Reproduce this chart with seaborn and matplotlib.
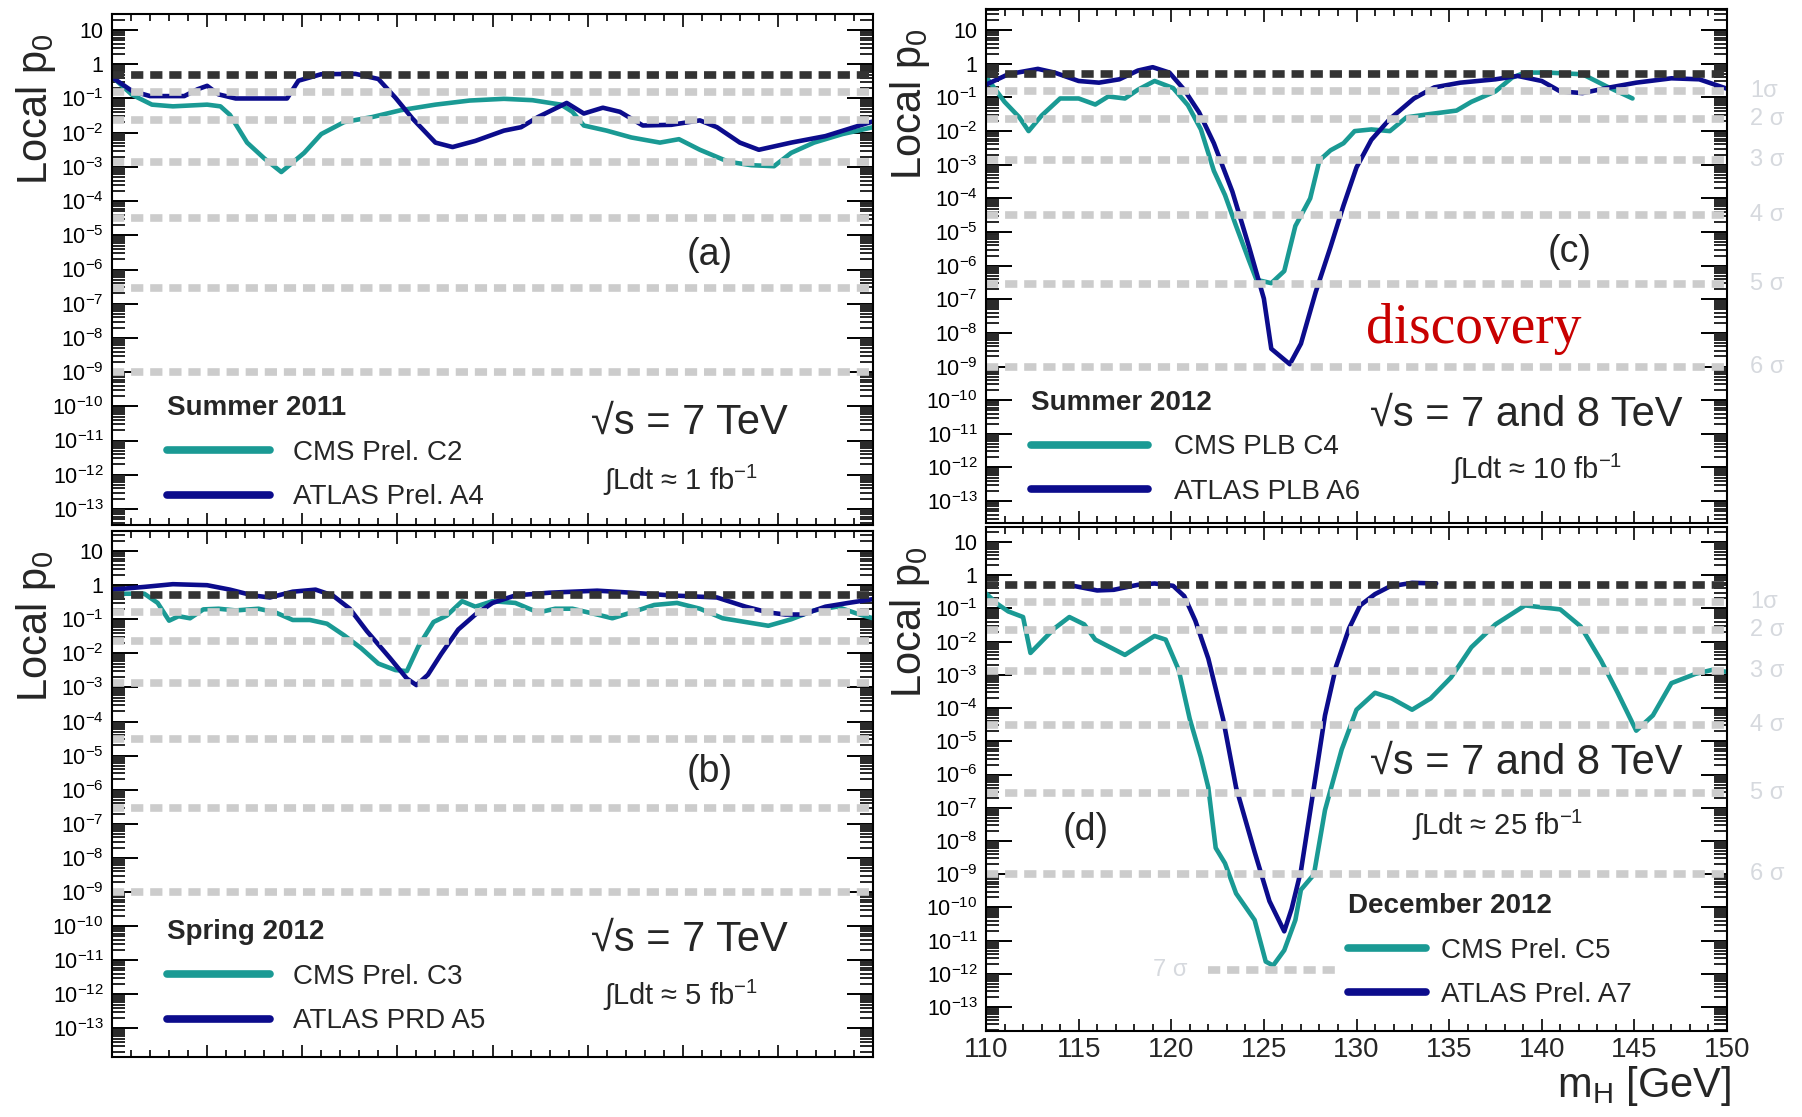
import numpy as np
import pandas as pd
import matplotlib
matplotlib.use("Agg")
import matplotlib.pyplot as plt
import matplotlib.transforms as mtransforms
from matplotlib.lines import Line2D
from matplotlib.ticker import FixedLocator, FixedFormatter, LogLocator, NullFormatter, MultipleLocator
import seaborn as sns

# ---------------- data (mH in GeV, log10 of local p0) ----------------
a_cms_mh = [110, 111.05, 112.1, 113.2, 115, 115.7, 116.2, 117.1, 118, 118.9, 120.1, 121, 122.2, 123.7,
            125.2, 127, 128.8, 130.6, 132.1, 133.6, 134.2, 134.8, 136, 137.3, 138.8, 139.8, 140.9,
            142.4, 143.6, 144.8, 145.7, 146.9, 148.4, 150]
a_cms_logp = [-0.36, -0.89, -1.18, -1.23, -1.18, -1.23, -1.48, -2.29, -2.75, -3.15, -2.59, -2.04, -1.69,
              -1.54, -1.34, -1.18, -1.06, -1.01, -1.05, -1.18, -1.39, -1.79, -1.94, -2.14, -2.29, -2.19,
              -2.50, -2.85, -2.95, -2.98, -2.59, -2.29, -2.04, -1.84]
a_atlas_mh = [110, 111.05, 112, 113.8, 114.5, 115, 115.6, 116.5, 119.2, 119.8, 121, 122.8, 124, 124.9,
              125.8, 127, 127.9, 129.1, 130.6, 131.5, 132.4, 133.9, 134.8, 135.8, 136.7, 137.9, 139.4,
              140.9, 141.8, 143, 144, 145.7, 147.5, 149, 150]
a_atlas_logp = [-0.38, -0.78, -0.93, -0.93, -0.73, -0.63, -0.88, -1.00, -1.00, -0.48, -0.29, -0.28, -0.43,
                -0.98, -1.59, -2.29, -2.42, -2.24, -1.94, -1.84, -1.54, -1.13, -1.44, -1.27, -1.39, -1.79,
                -1.77, -1.64, -1.84, -2.29, -2.50, -2.29, -2.10, -1.84, -1.67]

b_cms_mh = [110, 111.7, 112.4, 113, 113.5, 114.1, 114.8, 115.6, 116.5, 117.7, 118.6, 119.5, 120.4, 121.3,
            122.2, 123.1, 124, 124.9, 125.5, 126.1, 126.9, 127.6, 128.4, 129.1, 130, 131.2, 132.4, 133.3,
            134.2, 135.5, 136.3, 137.3, 138.5, 139.7, 140.9, 142.1, 143.3, 144.5, 145.7, 146.9, 148.1,
            149.3, 150]
b_cms_logp = [-0.25, -0.25, -0.52, -1.04, -0.91, -0.97, -0.71, -0.69, -0.74, -0.69, -0.80, -1.02, -1.02,
              -1.13, -1.47, -1.85, -2.30, -2.49, -2.52, -1.80, -1.08, -0.89, -0.47, -0.63, -0.47, -0.52,
              -0.80, -0.69, -0.69, -0.86, -0.97, -0.80, -0.58, -0.52, -0.69, -0.97, -1.08, -1.19, -1.00,
              -0.74, -0.63, -0.86, -0.97]
b_atlas_mh = [110, 111.7, 113.2, 115, 116.2, 117.4, 118.3, 119.5, 120.7, 121.6, 122.5, 123.4, 124.6, 125.5,
              126, 126.6, 127.3, 128.2, 129.1, 130, 131.2, 133, 135.5, 137.3, 139.4, 141.8, 143.3, 144.5,
              145.4, 146.3, 147.5, 148.7, 150]
b_atlas_logp = [-0.13, -0.05, 0.03, 0.0, -0.13, -0.30, -0.36, -0.19, -0.13, -0.30, -0.69, -1.35, -2.13,
                -2.74, -2.93, -2.63, -2.02, -1.30, -0.86, -0.52, -0.30, -0.22, -0.16, -0.22, -0.30, -0.36,
                -0.63, -0.80, -0.86, -0.86, -0.63, -0.52, -0.41]

c_cms_mh = [110.1, 111, 111.8, 112.3, 113, 114, 115, 115.9, 116.6, 117.5, 118.2, 119.1, 120.1, 120.9,
            121.6, 122.3, 122.9, 123.5, 124.2, 124.6, 125.4, 126.1, 126.7, 127.5, 128, 128.6, 129.3, 129.9,
            130.8, 131.8, 132.7, 134, 135.4, 136.2, 137.5, 138.4, 139.1, 140.3, 142.2, 143.5, 144.9]
c_cms_logp = [-0.46, -1.13, -1.59, -2.0, -1.54, -1.03, -1.03, -1.21, -0.97, -1.03, -0.77, -0.51, -0.72,
              -1.23, -1.95, -3.18, -3.90, -4.82, -5.85, -6.42, -6.52, -6.16, -4.82, -4.0, -2.87, -2.57,
              -2.36, -2.0, -1.95, -2.0, -1.59, -1.49, -1.39, -1.13, -0.82, -0.41, -0.26, -0.26, -0.31,
              -0.67, -1.03]
c_atlas_mh = [110, 111.2, 112.8, 113.7, 115, 116.1, 117.2, 118.2, 119, 119.9, 120.7, 121.5, 122.3, 123.3,
              124.2, 125, 125.4, 126.4, 127, 127.8, 128.6, 129.3, 130, 130.8, 131.8, 133.1, 134.2, 135.6,
              137.5, 138.7, 140, 141, 142.2, 143.5, 145.1, 147, 148.5, 150]
c_atlas_logp = [-0.62, -0.31, -0.15, -0.26, -0.51, -0.56, -0.46, -0.20, -0.10, -0.26, -0.77, -1.44, -2.36,
                -3.80, -5.44, -6.98, -8.47, -8.93, -8.32, -6.78, -5.44, -4.21, -3.08, -2.26, -1.64, -1.03,
                -0.70, -0.56, -0.46, -0.36, -0.51, -0.82, -0.87, -0.72, -0.56, -0.43, -0.46, -0.74]

d_cms_mh = [110, 110.6, 111.2, 112, 112.4, 113.1, 113.7, 114.5, 115.3, 115.9, 116.7, 117.5, 118.3, 119.1,
            119.7, 120.4, 121, 121.6, 122, 122.4, 122.9, 123.5, 124.5, 125.1, 125.5, 126.1, 126.7, 127,
            127.7, 128.3, 129.2, 130, 131, 131.9, 133, 134, 135.1, 136.2, 137.5, 139.1, 141, 142.1, 143.2,
            144.1, 145.1, 146, 147, 148.3, 149.2, 150]
d_cms_logp = [-0.55, -0.86, -1.09, -1.26, -2.34, -1.94, -1.60, -1.26, -1.48, -1.94, -2.17, -2.40, -2.11,
              -1.83, -1.94, -2.85, -4.33, -5.48, -6.39, -8.21, -8.67, -9.58, -10.38, -11.63, -11.75, -11.29,
              -10.38, -9.47, -9.01, -7.07, -5.25, -4.05, -3.54, -3.71, -4.05, -3.71, -3.08, -2.17, -1.48,
              -0.91, -1.03, -1.54, -2.57, -3.54, -4.68, -4.22, -3.25, -2.97, -2.85, -2.91]
d_atlas_mh = [114.7, 116, 116.9, 118.2, 119.1, 120.1, 120.7, 121.3, 122, 122.8, 123.5, 124.5, 125.3, 126.1,
              126.5, 127, 127.7, 128.3, 128.9, 129.6, 130.2, 131, 131.8, 133, 134.3]
d_atlas_logp = [-0.32, -0.46, -0.44, -0.29, -0.25, -0.32, -0.63, -1.37, -2.51, -4.33, -6.39, -8.33, -9.81,
                -10.72, -10.04, -8.90, -6.39, -4.22, -2.74, -1.60, -0.91, -0.57, -0.34, -0.23, -0.25]

# reference levels
half_p = 0.5
sigma_names = ["1σ", "2 σ", "3 σ", "4 σ", "5 σ", "6 σ"]
sigma_p = [1.587e-1, 2.275e-2, 1.350e-3, 3.167e-5, 2.867e-7, 9.866e-10]
sigma7_name = "7 σ"
sigma7_p = 1.280e-12
sigma7_range = [122.0, 129.0]

panel_tags = ["(a)", "(b)", "(c)", "(d)"]
periods = ["Summer 2011", "Spring 2012", "Summer 2012", "December 2012"]
cms_names = ["CMS Prel. C2", "CMS Prel. C3", "CMS PLB C4", "CMS Prel. C5"]
atlas_names = ["ATLAS Prel. A4", "ATLAS PRD A5", "ATLAS PLB A6", "ATLAS Prel. A7"]
energies = ["√s = 7 TeV", "√s = 7 TeV", "√s = 7 and 8 TeV", "√s = 7 and 8 TeV"]
lumis = ["∫Ldt ≈ 1 fb$^{-1}$", "∫Ldt ≈ 5 fb$^{-1}$", "∫Ldt ≈ 10 fb$^{-1}$", "∫Ldt ≈ 25 fb$^{-1}$"]
x_ticks = [110, 115, 120, 125, 130, 135, 140, 145, 150]

CMS_COLOR = "#1a9a94"
ATLAS_COLOR = "#0c0c8c"

# ---------------- style ----------------
sns.set_theme(style="ticks")
plt.rcParams["font.family"] = ["Liberation Sans", "DejaVu Sans"]
plt.rcParams["mathtext.fontset"] = "custom"
plt.rcParams["mathtext.rm"] = "Liberation Sans"
plt.rcParams["mathtext.it"] = "Liberation Sans:italic"
plt.rcParams["mathtext.bf"] = "Liberation Sans:bold"
plt.rcParams["axes.edgecolor"] = "black"

W, H = 1802, 1117
fig = plt.figure(figsize=(W / 100, H / 100), dpi=100)
fig.patch.set_facecolor("white")


def box(l, r, t, b):
    return [l / W, 1 - b / H, (r - l) / W, (b - t) / H]


panels = [
    dict(rect=box(112, 873, 14, 525), ylim=(-13.47, 1.47), cms=(a_cms_mh, a_cms_logp),
         atlas=(a_atlas_mh, a_atlas_logp), tag_pos=(141.4, -5.58), en_pos=(135.2, -10.49),
         lu_pos=(135.8, -12.16), leg=(0.072, 0.254), hl=3.7, htp=0.85, xlabels=False, sigma=False),
    dict(rect=box(112, 873, 531, 1057), ylim=(-13.84, 1.59), cms=(b_cms_mh, b_cms_logp),
         atlas=(b_atlas_mh, b_atlas_logp), tag_pos=(141.4, -5.48), en_pos=(135.2, -10.41),
         lu_pos=(135.8, -12.02), leg=(0.072, 0.262), hl=3.7, htp=0.85, xlabels=False, sigma=False),
    dict(rect=box(986, 1727, 9, 523), ylim=(-13.65, 1.63), cms=(c_cms_mh, c_cms_logp),
         atlas=(c_atlas_mh, c_atlas_logp), tag_pos=(141.5, -5.58), en_pos=(130.75, -10.43),
         lu_pos=(135.1, -12.07), leg=(0.061, 0.259), hl=4.2, htp=0.95, xlabels=False, sigma=True),
    dict(rect=box(986, 1727, 527, 1031), ylim=(-13.72, 1.45), cms=(d_cms_mh, d_cms_logp),
         atlas=(d_atlas_mh, d_atlas_logp), tag_pos=(115.4, -7.68), en_pos=(130.75, -5.64),
         lu_pos=(133.0, -7.53), leg=(0.489, 0.274), hl=2.8, htp=0.55, xlabels=True, sigma=True),
]

ylab_exps = list(range(-13, 2))
ylab_text = [f"$10^{{{k}}}$" for k in range(-13, 0)] + ["1", "10"]

for i, P in enumerate(panels):
    ax = fig.add_axes(P["rect"])
    ax.set_facecolor("white")
    ax.set_yscale("log")
    df = pd.concat([
        pd.DataFrame({"mH": P["cms"][0], "p": 10.0 ** np.array(P["cms"][1]), "exp": "CMS"}),
        pd.DataFrame({"mH": P["atlas"][0], "p": 10.0 ** np.array(P["atlas"][1]), "exp": "ATLAS"}),
    ], ignore_index=True)
    sns.lineplot(data=df, x="mH", y="p", hue="exp", palette={"CMS": CMS_COLOR, "ATLAS": ATLAS_COLOR},
                 estimator=None, sort=False, legend=False, linewidth=3.3, ax=ax, zorder=2)

    # reference lines
    ax.axhline(half_p, color="#333333", lw=5.5, ls=(0, (1.6, 0.9)), dash_capstyle="butt", zorder=4)
    for sp in sigma_p:
        ax.axhline(sp, color="#cccccc", lw=5.5, ls=(0, (1.6, 0.9)), dash_capstyle="butt", zorder=4)

    ax.set_xlim(110, 150)
    ax.set_ylim(10.0 ** P["ylim"][0], 10.0 ** P["ylim"][1])
    ax.set_xlabel("")
    ax.set_ylabel("")

    # ticks
    ax.yaxis.set_major_locator(FixedLocator([10.0 ** k for k in ylab_exps]))
    ax.yaxis.set_major_formatter(FixedFormatter(ylab_text))
    ax.yaxis.set_minor_locator(LogLocator(base=10, subs=np.arange(2, 10) * 1.0, numticks=60))
    ax.yaxis.set_minor_formatter(NullFormatter())
    ax.xaxis.set_major_locator(FixedLocator(x_ticks))
    ax.xaxis.set_minor_locator(MultipleLocator(1))
    ax.tick_params(axis="y", which="major", direction="in", length=19, width=1.4, left=True, right=True,
                   labelsize=15.5, pad=6, colors="black")
    ax.tick_params(axis="y", which="minor", direction="in", length=9.5, width=1.4, left=True, right=True)
    ax.tick_params(axis="x", which="major", direction="in", length=9, width=1.4, top=True, bottom=True,
                   labelsize=20, pad=4, labelbottom=P["xlabels"])
    ax.tick_params(axis="x", which="minor", direction="in", length=5, width=1.4, top=True, bottom=True)
    for s in ax.spines.values():
        s.set_linewidth(1.5)
        s.set_color("black")
        s.set_zorder(5)

    # texts
    ax.text(P["tag_pos"][0], 10.0 ** P["tag_pos"][1], panel_tags[i], ha="center", va="center", fontsize=27)
    ax.text(P["en_pos"][0], 10.0 ** P["en_pos"][1], energies[i], ha="left", va="center", fontsize=30)
    ax.text(P["lu_pos"][0], 10.0 ** P["lu_pos"][1], lumis[i], ha="left", va="center", fontsize=21)

    handles = [Line2D([], [], color=CMS_COLOR, lw=5.5), Line2D([], [], color=ATLAS_COLOR, lw=5.5)]
    ax.legend(handles, [cms_names[i], atlas_names[i]], title=periods[i],
              title_fontproperties={"weight": "bold", "size": 20}, alignment="left", frameon=False,
              fontsize=20, handlelength=P["hl"], handletextpad=P["htp"], labelspacing=0.67,
              borderpad=0, borderaxespad=0, loc="upper left", bbox_to_anchor=P["leg"])

    if P["sigma"]:
        tr = mtransforms.blended_transform_factory(ax.transAxes, ax.transData)
        for nm, sp in zip(sigma_names, sigma_p):
            ax.text(1.031, sp, nm, transform=tr, ha="left", va="center", fontsize=17, color="#d6d9de",
                    clip_on=False)

    if i == 3:
        ax.hlines(sigma7_p, sigma7_range[0], sigma7_range[1], color="#cccccc", lw=5.5,
                  linestyles=[(0, (1.6, 0.9))], zorder=4)
        ax.text(119.0, sigma7_p, sigma7_name, ha="left", va="center", fontsize=17, color="#d6d9de")
    if i == 2:
        ax.text(130.5, 10.0 ** -7.87, "discovery", ha="left", va="center", fontsize=40,
                family=["Liberation Serif", "DejaVu Serif"], color="#c80000")

    # y label
    left_px = P["rect"][0] * W
    top_px = (1 - P["rect"][1] - P["rect"][3]) * H
    fig.text((left_px - 76) / W, 1 - (top_px + 19) / H, "Local p$_{0}$", rotation=90, ha="center",
             va="top", fontsize=30)

fig.text(1731 / W, 1 - 1086 / H, "m$_\\mathregular{H}$ [GeV]", ha="right", va="center", fontsize=30)

fig.savefig("out.png", dpi=100, facecolor="white")
